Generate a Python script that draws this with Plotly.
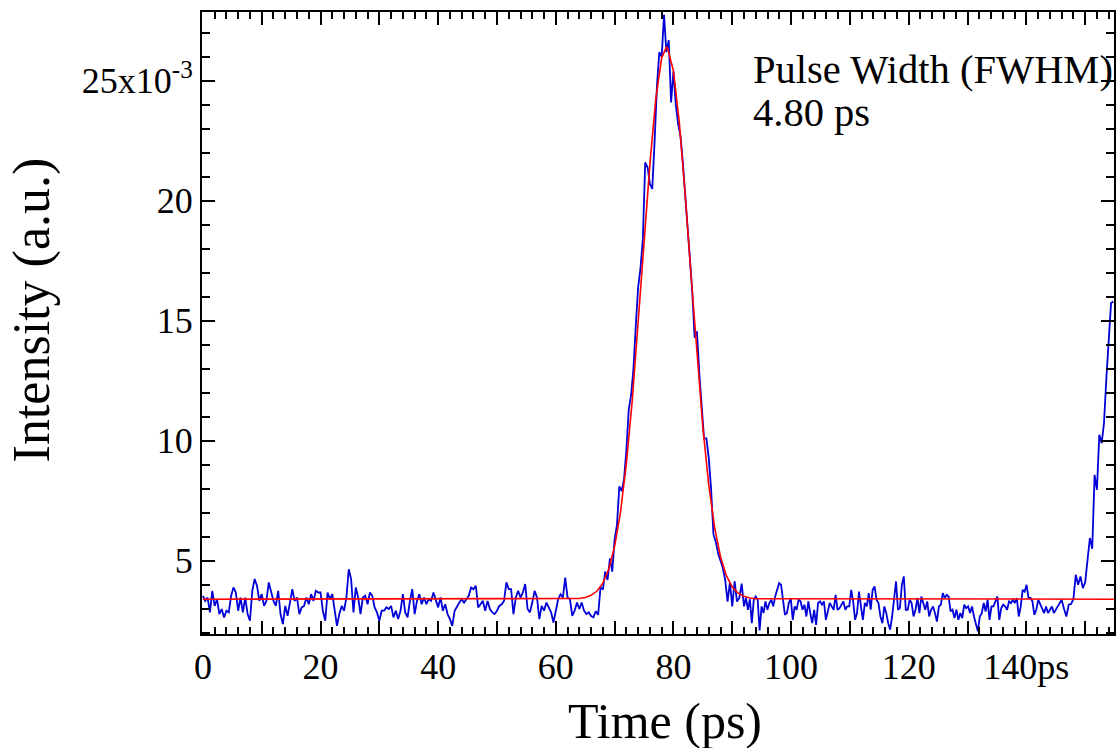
import numpy as np
import plotly.graph_objects as go

# ---- measured intensity (units of 1e-3 a.u.), four contiguous time segments ----
seg_a = [  # 0.0 -> 65.6 ps
    3.54, 3.33, 3.47, 2.85, 3.75, 3.12, 3.40, 2.78, 2.99, 2.64,
    2.92, 2.85, 3.54, 3.89, 3.68, 2.92, 3.47, 2.85, 3.47, 2.78,
    2.50, 3.75, 4.24, 3.96, 3.33, 3.61, 3.12, 3.33, 4.10, 3.75,
    3.33, 3.12, 3.75, 2.78, 2.36, 3.12, 2.71, 3.26, 3.82, 3.33,
    3.47, 2.78, 3.06, 3.12, 3.47, 3.19, 3.61, 3.33, 3.75, 3.68,
    3.68, 2.92, 2.50, 3.68, 3.40, 3.61, 2.85, 2.29, 2.78, 3.12,
    2.92, 3.47, 4.65, 4.24, 2.85, 3.89, 3.47, 2.78, 3.47, 3.54,
    3.19, 3.68, 3.54, 3.06, 2.85, 2.50, 2.92, 2.92, 3.06, 2.99,
    3.12, 2.64, 2.92, 2.57, 2.92, 3.61, 2.85, 2.64,
    3.33, 3.82, 2.78, 3.33, 3.61, 3.19, 3.47, 3.19, 3.40, 3.33,
    3.68, 3.33, 3.06, 3.47, 2.92, 3.19, 2.78, 2.57, 2.29, 2.92,
    3.12, 3.26, 3.40, 3.26, 3.40, 3.54, 3.89, 3.82, 3.96, 3.06,
    3.19, 3.33, 2.92, 3.33, 2.99, 2.85, 2.78,
    2.92, 3.12, 3.19, 3.33, 4.10, 3.82, 3.82, 2.78, 3.47, 3.75,
    3.47, 3.68, 4.03, 2.99, 2.85, 3.26, 3.75, 3.47, 2.57, 3.12,
    2.92, 3.26, 3.06, 2.85, 2.43, 2.92, 3.40, 3.61, 3.47, 4.30,
    3.47, 3.40, 2.71, 2.92, 3.26, 2.99, 3.26, 2.92, 2.78, 2.85,
]
seg_b = [  # 66.0 -> 91.6 ps (pulse)
    2.70, 2.65, 2.90, 2.75, 3.90, 3.80, 4.55, 4.20, 5.10, 4.55,
    5.90, 6.50, 8.10, 7.90, 8.40, 9.60, 11.30, 11.90, 13.00, 14.80,
    16.40, 17.20, 18.40, 21.60, 21.40, 20.70, 20.50, 22.50, 24.80, 26.20,
    26.00, 27.75, 26.20, 26.70, 24.10, 25.40, 24.00, 23.20, 22.70, 21.60,
    20.00, 18.90, 17.60, 16.20, 14.30, 14.55, 12.80, 11.60, 10.10, 10.10,
    9.30, 8.00, 6.10, 5.80, 5.30, 5.00, 4.70, 4.20, 3.30, 4.10,
    3.10, 4.15, 3.30, 3.45, 4.05,
]
seg_c = [  # 92.0 -> 146.0 ps
    3.10, 3.45, 2.96, 3.40, 2.40, 3.38, 3.51, 3.38, 2.10, 3.10,
    2.82, 3.31, 2.96, 3.24, 3.38, 3.10, 3.51, 3.79, 4.07, 4.00,
    3.38, 2.75, 2.82, 3.24, 3.45, 2.54, 3.10, 2.96, 3.38, 3.31,
    2.96, 3.17, 2.68, 3.31, 2.82, 2.40, 2.96, 2.33, 3.24, 3.31,
    3.17, 3.31, 2.54, 2.96, 3.24, 3.10, 2.96, 3.58, 2.96, 3.03,
    3.17, 3.31, 2.96, 3.10, 3.10, 3.79, 3.31, 2.54, 2.82, 3.72,
    3.10, 2.54, 3.24, 3.10, 3.65, 2.96, 3.79, 3.93, 3.38, 3.24,
    2.68, 2.40, 3.10, 2.82, 2.40, 2.13, 2.68, 3.51, 4.14, 2.96,
    3.03, 4.00, 4.35, 2.96, 2.96, 3.38, 3.24, 2.68, 2.96, 3.45,
    2.82, 3.51, 3.24, 2.96, 3.31, 2.68, 2.96, 3.10, 2.82, 2.47,
    3.10, 3.17, 3.65, 3.45, 3.58, 3.51, 2.89, 2.96, 2.61, 2.96,
    2.54, 2.82, 2.61, 3.17, 3.03, 3.10, 2.82, 3.10, 2.68, 2.40,
    2.06, 2.68, 2.82, 3.24, 2.89, 3.38, 2.54, 3.10, 3.10, 3.31,
    3.51, 2.54, 3.03, 3.17, 3.10, 2.96, 3.31, 3.24, 3.38, 3.24,
    3.45, 2.68, 3.10, 3.79, 3.72, 4.00, 3.45, 3.45, 3.31, 2.75,
    2.96, 3.38, 3.17, 3.03, 2.82, 3.10, 2.82, 2.96, 3.10, 2.82,
    2.96, 3.10, 3.24, 3.38,
]
seg_d = [  # 146.4 -> 154.8 ps (next pulse rising)
    3.00, 2.68, 3.17, 3.20, 3.40, 4.42, 4.00, 4.35, 3.86, 4.10,
    5.04, 5.95, 5.50, 8.58, 7.96, 10.25, 9.90, 10.74, 12.60, 14.35,
    15.74, 15.80,
]
seg_spans = [(0.0, 65.6), (66.0, 91.6), (92.0, 146.0), (146.4, 154.8)]

# ---- fitted curve (units of 1e-3 a.u.) ----
fit_time = [0, 62, 64, 65, 66, 67, 68, 69, 70, 71, 72, 73, 74, 75, 76, 77, 78, 78.8,
            79, 80, 81, 82, 83, 84, 85, 86, 87, 88, 89, 90, 91, 92, 93, 94, 155]
fit_vals = [3.40, 3.40, 3.43, 3.47, 3.56, 3.74, 4.07, 4.65, 5.60, 7.03, 9.06, 11.69,
            14.83, 18.24, 21.53, 24.25, 25.96, 26.40, 26.37, 25.42, 23.26, 20.26,
            16.87, 13.53, 10.57, 8.17, 6.39, 5.17, 4.38, 3.91, 3.65, 3.52, 3.45,
            3.42, 3.40]

y_tickvals = [5, 10, 15, 20, 25]
y_ticktext = ["5", "10", "15", "20", "25x10<sup>-3</sup>"]
x_label_vals = [0, 20, 40, 60, 80, 100, 120, 140]
x_label_text = ["0", "20", "40", "60", "80", "100", "120", "140ps"]
x_mid_major = [10, 30, 50, 70, 90, 110, 130, 150]

SCALE = 1e-3
X_RANGE = [-0.15, 154.9]
segs = [seg_a, seg_b, seg_c, seg_d]
time = np.concatenate([np.linspace(a, b, len(s)) for (a, b), s in zip(seg_spans, segs)])
intensity = np.concatenate([np.array(s) for s in segs]) * SCALE

fig = go.Figure()
fig.add_trace(go.Scatter(x=time, y=intensity, mode="lines",
                         line=dict(color="rgb(0,0,215)", width=1.8), hoverinfo="skip"))
fig.add_trace(go.Scatter(x=fit_time, y=np.array(fit_vals) * SCALE, mode="lines",
                         line=dict(color="rgb(255,0,0)", width=1.6), hoverinfo="skip"))

FONT = "Liberation Serif"
fig.update_layout(
    width=1120, height=748,
    margin=dict(l=202, r=4, t=12, b=114),
    plot_bgcolor="white", paper_bgcolor="white",
    showlegend=False,
    font=dict(family=FONT, color="black"),
    xaxis=dict(
        range=X_RANGE, showgrid=False, zeroline=False,
        showline=True, linecolor="black", linewidth=2, mirror="ticks",
        ticks="inside", ticklen=13, tickwidth=2, tickcolor="black",
        tickvals=x_label_vals, ticktext=x_label_text,
        tickfont=dict(family=FONT, size=36, color="black"),
        minor=dict(dtick=2, tick0=0, ticks="inside", ticklen=7, tickwidth=1.5, tickcolor="black"),
    ),
    xaxis2=dict(
        range=X_RANGE, overlaying="x", matches="x", showgrid=False, zeroline=False,
        showline=False, mirror="ticks", ticks="inside", ticklen=13, tickwidth=2,
        tickcolor="black", tickvals=x_mid_major, showticklabels=False,
    ),
    yaxis=dict(
        range=[1.95 * SCALE, 27.87 * SCALE], showgrid=False, zeroline=False,
        showline=True, linecolor="black", linewidth=2, mirror="ticks",
        ticks="inside", ticklen=13, tickwidth=2, tickcolor="black",
        tickvals=[v * SCALE for v in y_tickvals], ticktext=y_ticktext,
        tickfont=dict(family=FONT, size=36, color="black"),
        minor=dict(dtick=1 * SCALE, tick0=0, ticks="inside", ticklen=8, tickwidth=1.5, tickcolor="black"),
    ),
)
# invisible trace to activate the secondary x axis (ticks only)
fig.add_trace(go.Scatter(x=[X_RANGE[0]], y=[None], xaxis="x2", yaxis="y",
                         mode="lines", hoverinfo="skip", showlegend=False))

fig.add_annotation(text="Time (ps)", xref="paper", yref="paper", x=0.5077, y=-0.14,
                   xanchor="center", yanchor="middle", showarrow=False,
                   font=dict(family=FONT, size=50, color="black"))
fig.add_annotation(text="Intensity (a.u.)", xref="paper", yref="paper", x=-0.187, y=0.521,
                   xanchor="center", yanchor="middle", textangle=-90, showarrow=False,
                   font=dict(family=FONT, size=52, color="black"))
fig.add_annotation(text="Pulse Width (FWHM)", xref="paper", yref="paper", x=0.6018, y=0.9068,
                   xanchor="left", yanchor="middle", showarrow=False,
                   font=dict(family=FONT, size=40.5, color="black"))
fig.add_annotation(text="4.80 ps", xref="paper", yref="paper", x=0.6018, y=0.839,
                   xanchor="left", yanchor="middle", showarrow=False,
                   font=dict(family=FONT, size=40.5, color="black"))

fig.write_html("out.html")
